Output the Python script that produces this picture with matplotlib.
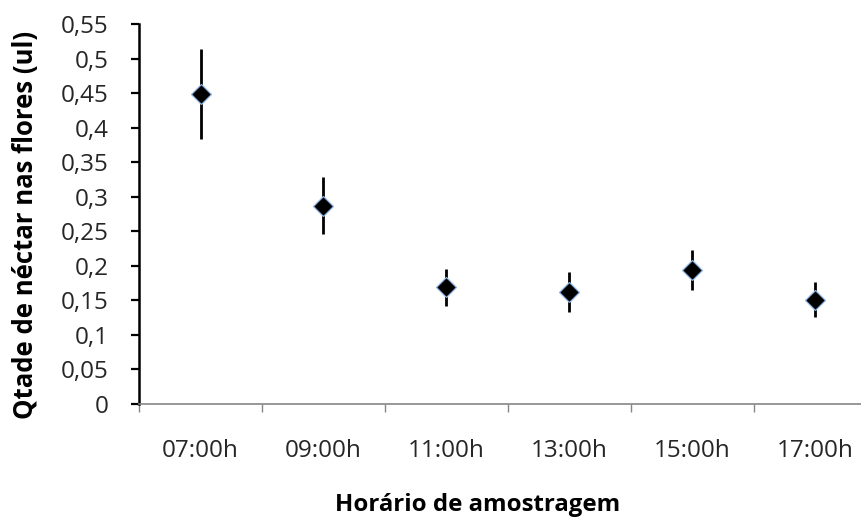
import numpy as np
import matplotlib
matplotlib.use('Agg')
import matplotlib.pyplot as plt
from matplotlib.ticker import FuncFormatter, FixedLocator

plt.rcParams['font.family'] = ['Open Sans', 'DejaVu Sans']

# sampling times and mean nectar volume with error (ul)
horarios = ["07:00h", "09:00h", "11:00h", "13:00h", "15:00h", "17:00h"]
nectar = [0.449, 0.287, 0.169, 0.162, 0.194, 0.151]
erro = [0.065, 0.041, 0.027, 0.029, 0.029, 0.025]

fig = plt.figure(figsize=(8.61, 5.17), dpi=100)
ax = fig.add_axes([139/861, 113/517, 738/861, 380/517])

x = np.arange(len(horarios)) + 0.5
ax.errorbar(x, nectar, yerr=erro, fmt='none', ecolor='black', elinewidth=2.0,
            capsize=0, zorder=2)
ax.plot(x, nectar, ls='none', marker='D', ms=10, mfc='black', mec='#8eb4e3',
        mew=0.9, zorder=3)

ax.set_xlim(0, len(horarios))
ax.set_ylim(0, 0.55)
ax.set_yticks(np.arange(0, 0.5501, 0.05))
ax.yaxis.set_major_formatter(FuncFormatter(
    lambda v, p: '0' if abs(v) < 1e-9 else f"{v:.2f}".rstrip('0').replace('.', ',')))

# category boundaries get the ticks, centres get the labels
ax.xaxis.set_major_locator(FixedLocator(np.arange(0, len(horarios) + 1)))
ax.xaxis.set_minor_locator(FixedLocator(x))
ax.set_xticklabels([])
ax.set_xticklabels(horarios, minor=True)
ax.tick_params(axis='x', which='major', direction='out', length=6, width=1,
               color='#868686')
ax.tick_params(axis='x', which='minor', length=0, pad=25, labelsize=17.5,
               labelcolor='#262626')
ax.tick_params(axis='y', direction='out', length=6, width=1.6, color='black',
               pad=16, labelsize=17.5, labelcolor='#262626')

for s in ('top', 'right'):
    ax.spines[s].set_visible(False)
ax.spines['left'].set_linewidth(1.8)
ax.spines['left'].set_color('black')
ax.spines['bottom'].set_linewidth(1.2)
ax.spines['bottom'].set_color('#868686')

ax.set_xlabel("Horário de amostragem", fontsize=17.3, fontweight='bold',
              color='black')
ax.xaxis.set_label_coords(0.459, -0.235)
ax.set_ylabel("Qtade de néctar nas flores (ul)", fontsize=18.5, fontweight='bold',
              color='black')
ax.yaxis.set_label_coords(-0.136, 0.471)

fig.savefig("out.png", dpi=100)
